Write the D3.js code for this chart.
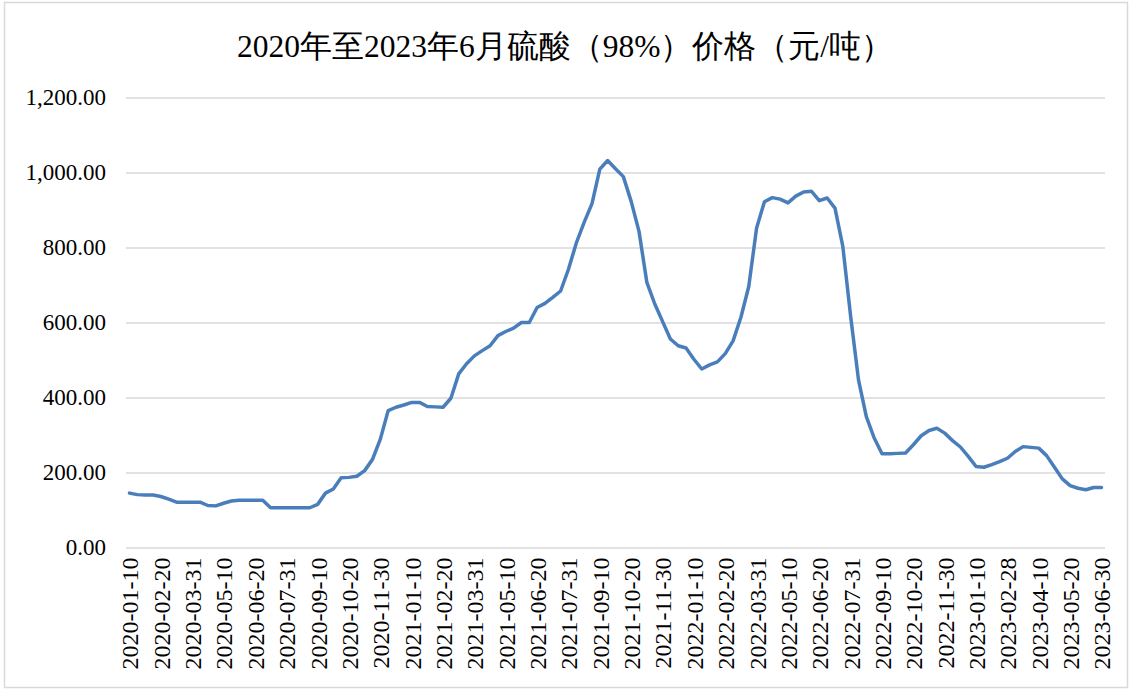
<!DOCTYPE html>
<html>
<head>
<meta charset="utf-8">
<script src="https://cdn.jsdelivr.net/npm/d3@7"></script>
<style>
  body { margin: 0; background: #fff; }
  svg { display: block; }
</style>
</head>
<body>
<svg id="chart" width="1130" height="690"></svg>
<script>
// dekad dates (10th / 20th / month end), 2023-01-31 is missing in source
const dates = [
  "2020-01-10","2020-01-20","2020-01-31","2020-02-10","2020-02-20","2020-02-29","2020-03-10","2020-03-20","2020-03-31",
  "2020-04-10","2020-04-20","2020-04-30","2020-05-10","2020-05-20","2020-05-31","2020-06-10","2020-06-20","2020-06-30",
  "2020-07-10","2020-07-20","2020-07-31","2020-08-10","2020-08-20","2020-08-31","2020-09-10","2020-09-20","2020-09-30",
  "2020-10-10","2020-10-20","2020-10-31","2020-11-10","2020-11-20","2020-11-30","2020-12-10","2020-12-20","2020-12-31",
  "2021-01-10","2021-01-20","2021-01-31","2021-02-10","2021-02-20","2021-02-28","2021-03-10","2021-03-20","2021-03-31",
  "2021-04-10","2021-04-20","2021-04-30","2021-05-10","2021-05-20","2021-05-31","2021-06-10","2021-06-20","2021-06-30",
  "2021-07-10","2021-07-20","2021-07-31","2021-08-10","2021-08-20","2021-08-31","2021-09-10","2021-09-20","2021-09-30",
  "2021-10-10","2021-10-20","2021-10-31","2021-11-10","2021-11-20","2021-11-30","2021-12-10","2021-12-20","2021-12-31",
  "2022-01-10","2022-01-20","2022-01-31","2022-02-10","2022-02-20","2022-02-28","2022-03-10","2022-03-20","2022-03-31",
  "2022-04-10","2022-04-20","2022-04-30","2022-05-10","2022-05-20","2022-05-31","2022-06-10","2022-06-20","2022-06-30",
  "2022-07-10","2022-07-20","2022-07-31","2022-08-10","2022-08-20","2022-08-31","2022-09-10","2022-09-20","2022-09-30",
  "2022-10-10","2022-10-20","2022-10-31","2022-11-10","2022-11-20","2022-11-30","2022-12-10","2022-12-20","2022-12-31",
  "2023-01-10","2023-01-20","2023-02-10","2023-02-20","2023-02-28","2023-03-10","2023-03-20","2023-03-31",
  "2023-04-10","2023-04-20","2023-04-30","2023-05-10","2023-05-20","2023-05-31","2023-06-10","2023-06-20","2023-06-30"
];

// price, yuan/ton
const prices = [
  145,141,140,140,136,129,121,121,121,121,112,111,118,124,126,126,126,126,
  106,106,106,106,106,106,115,145,156,186,187,190,205,235,289,365,374,380,
  387,387,376,375,374,398,463,490,511,525,538,565,576,585,600,600,640,651,
  667,684,742,812,867,917,1009,1032,1010,989,923,843,707,650,603,556,538,532,
  502,476,487,495,517,551,614,696,852,922,933,929,919,937,948,950,925,932,
  905,803,616,447,349,292,250,250,251,252,274,298,312,318,305,285,268,243,
  216,214,221,229,238,256,269,267,265,245,214,183,165,158,154,160,160
];

const xTickLabels = [
  "2020-01-10","2020-02-20","2020-03-31","2020-05-10","2020-06-20","2020-07-31","2020-09-10","2020-10-20",
  "2020-11-30","2021-01-10","2021-02-20","2021-03-31","2021-05-10","2021-06-20","2021-07-31","2021-09-10",
  "2021-10-20","2021-11-30","2022-01-10","2022-02-20","2022-03-31","2022-05-10","2022-06-20","2022-07-31",
  "2022-09-10","2022-10-20","2022-11-30","2023-01-10","2023-02-28","2023-04-10","2023-05-20","2023-06-30"
];
const yTicks = [0, 200, 400, 600, 800, 1000, 1200];

const titleText = "2020年至2023年6月硫酸（98%）价格（元/吨）";

var svg = d3.select("#chart");
var serif = "'Liberation Serif'";

// outer frame
svg.append("rect")
  .attr("x", 4.5).attr("y", 2.5)
  .attr("width", 1123).attr("height", 685)
  .attr("fill", "#fff")
  .attr("stroke", "#d9d9d9")
  .attr("stroke-width", 1.5);

var gridLeft = 126, gridRight = 1105;

var x = d3.scalePoint()
  .domain(dates)
  .range([129.5, 1101.5]);

var y = d3.scaleLinear()
  .domain([0, 1200])
  .range([547.5, 97.5]);

// y axis + gridlines
var yAxis = svg.append("g")
  .attr("transform", "translate(" + gridLeft + ",0)")
  .call(d3.axisLeft(y)
    .tickValues(yTicks)
    .tickSize(-(gridRight - gridLeft))
    .tickPadding(20)
    .tickFormat(d3.format(",.2f")));
yAxis.select(".domain").remove();
yAxis.selectAll(".tick line")
  .attr("stroke", "#d9d9d9")
  .attr("stroke-width", 1.5);
yAxis.selectAll(".tick text")
  .attr("fill", "#000")
  .style("font-family", serif)
  .style("font-size", "23px");

// x axis labels
var xAxis = svg.append("g")
  .attr("transform", "translate(0," + y(0) + ")")
  .call(d3.axisBottom(x)
    .tickValues(xTickLabels)
    .tickSize(0));
xAxis.select(".domain").remove();
xAxis.selectAll(".tick text")
  .attr("transform", "rotate(-90)")
  .attr("x", -10)
  .attr("y", 0)
  .attr("dy", "0.35em")
  .attr("text-anchor", "end")
  .attr("fill", "#000")
  .style("font-family", serif)
  .style("font-size", "24px");

// price line
var line = d3.line()
  .x(function(d, i) { return x(dates[i]); })
  .y(function(d) { return y(d); });

svg.append("path")
  .datum(prices)
  .attr("d", line)
  .attr("fill", "none")
  .attr("stroke", "#4a7ebb")
  .attr("stroke-width", 3.5)
  .attr("stroke-linejoin", "round")
  .attr("stroke-linecap", "round");

// title
svg.append("text")
  .attr("x", 565)
  .attr("y", 57)
  .attr("text-anchor", "middle")
  .attr("fill", "#000")
  .style("font-family", serif)
  .style("font-size", "31.5px")
  .text(titleText);
</script>
</body>
</html>
